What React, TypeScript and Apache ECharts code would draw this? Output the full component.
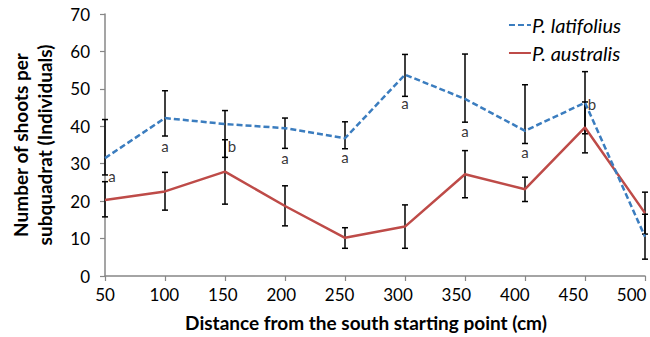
import React, { useEffect, useRef } from 'react';
import * as echarts from 'echarts';

const categories = ['50', '100', '150', '200', '250', '300', '350', '400', '450', '500'];
const latifolius = [31.5, 42.2, 40.6, 39.5, 36.8, 53.8, 47.3, 38.8, 46.3, 10.5];
const latLow = [27.0, 37.4, 31.7, 34.1, 34.0, 48.0, 41.1, 35.4, 38.0, 4.5];
const latHigh = [41.8, 49.5, 44.2, 42.2, 41.2, 59.2, 59.3, 51.1, 54.6, 16.5];
const australis = [20.3, 22.6, 27.9, 18.7, 10.2, 13.2, 27.2, 23.2, 39.7, 16.8];
const ausLow = [15.8, 17.6, 19.2, 13.4, 7.4, 7.4, 20.9, 19.9, 32.9, 11.2];
const ausHigh = [25.2, 27.7, 36.4, 24.1, 12.9, 19.0, 33.5, 26.4, 46.5, 22.4];
const sigLetters = ['a', 'a', 'b', 'a', 'a', 'a', 'a', 'a', 'b'];
const letterY = [26.6, 34.8, 34.8, 31.5, 31.9, 46.2, 38.8, 33.0, 46.0];
const letterSide = ['right', 'center', 'right', 'center', 'center', 'center', 'center', 'center', 'right'];
const yTicks = [0, 10, 20, 30, 40, 50, 60, 70];

const FONT = 'Lato, "Open Sans", sans-serif';
const BLUE = '#3b7dbf';
const RED = '#be4b48';
const AXIS = '#878787';

function errorSeries(low: number[], high: number[], name: string) {
  return {
    type: 'custom',
    name,
    silent: true,
    z: 3,
    data: low.map((l, i) => [i, l, high[i]]),
    renderItem: (params: any, api: any) => {
      const top = api.coord([api.value(0), api.value(2)]);
      const bot = api.coord([api.value(0), api.value(1)]);
      const w = 3;
      const style = { stroke: '#000', lineWidth: 1.5 };
      return {
        type: 'group',
        children: [
          { type: 'line', shape: { x1: top[0], y1: top[1], x2: bot[0], y2: bot[1] }, style },
          { type: 'line', shape: { x1: top[0] - w, y1: top[1], x2: top[0] + w, y2: top[1] }, style },
          { type: 'line', shape: { x1: bot[0] - w, y1: bot[1], x2: bot[0] + w, y2: bot[1] }, style },
        ],
      };
    },
  };
}

export default function App() {
  const ref = useRef<HTMLDivElement>(null);
  useEffect(() => {
    const chart = echarts.init(ref.current!, null, { renderer: 'svg' });
    const option: any = {
      animation: false,
      textStyle: { fontFamily: FONT },
      grid: { left: 105, right: 5, top: 14, bottom: 61, containLabel: false },
      legend: {
        orient: 'vertical',
        right: 24,
        top: 10,
        itemWidth: 22,
        itemHeight: 12,
        itemGap: 8,
        itemStyle: { opacity: 0 },
        data: ['P. latifolius', 'P. australis'],
        textStyle: { fontFamily: FONT, fontStyle: 'italic', fontSize: 20, color: '#000', padding: [0, 0, 0, -4] },
      },
      xAxis: {
        type: 'category',
        data: categories.map((c, i) => ({
          value: c,
          textStyle: { padding: [0, Math.max(0, i * 3.2 - 2), 0, 0] },
        })),
        boundaryGap: false,
        axisLine: { lineStyle: { color: AXIS, width: 1.5 } },
        axisTick: { show: true, length: 5, lineStyle: { color: AXIS, width: 1.2 } },
        axisLabel: { color: '#000', fontSize: 17, fontFamily: FONT, margin: 10 },
        name: 'Distance from the south starting point (cm)',
        nameLocation: 'middle',
        nameGap: 37,
        nameTextStyle: { fontWeight: 'bold', fontSize: 19, color: '#000', fontFamily: FONT, padding: [0, 18, 0, 0] },
      },
      yAxis: {
        type: 'value',
        min: yTicks[0],
        max: yTicks[yTicks.length - 1],
        interval: 10,
        splitLine: { show: false },
        axisLine: { show: true, lineStyle: { color: AXIS, width: 1.5 } },
        axisTick: { show: true, length: 5, lineStyle: { color: AXIS, width: 1.2 } },
        axisLabel: { color: '#000', fontSize: 17, fontFamily: FONT, margin: 15 },
        name: 'Number of shoots per\nsubquadrat (Individuals)',
        nameLocation: 'middle',
        nameGap: 49,
        nameTextStyle: { fontWeight: 'bold', fontSize: 19, color: '#000', fontFamily: FONT, lineHeight: 24 },
      },
      series: [
        errorSeries(latLow, latHigh, 'errLat'),
        errorSeries(ausLow, ausHigh, 'errAus'),
        {
          name: 'P. australis',
          type: 'line',
          data: australis,
          symbol: 'none',
          z: 4,
          lineStyle: { color: RED, width: 2.5 },
          itemStyle: { color: RED },
        },
        {
          name: 'P. latifolius',
          type: 'line',
          data: latifolius,
          symbol: 'none',
          z: 5,
          lineStyle: { color: BLUE, width: 2.5, type: [6, 3] },
          itemStyle: { color: BLUE },
        },
        {
          name: 'letters',
          type: 'scatter',
          symbolSize: 0,
          z: 6,
          silent: true,
          data: sigLetters.map((s, i) => ({
            value: [i, letterY[i]],
            label: {
              show: true,
              formatter: s,
              position: 'inside',
              offset: letterSide[i] === 'right' ? [7, 0] : [0, 0],
              color: '#000',
              fontSize: 15,
              fontFamily: FONT,
            },
          })),
        },
      ],
    };
    chart.setOption(option);
    return () => chart.dispose();
  }, []);
  return <div ref={ref} style={{ position: 'absolute', left: 0, top: 0, width: 650, height: 337 }} />;
}
